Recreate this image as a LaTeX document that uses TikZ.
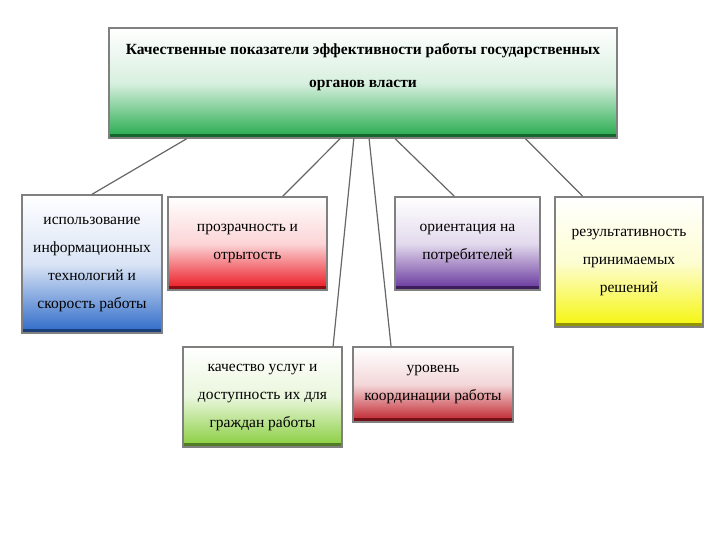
\documentclass[tikz,border=0pt]{standalone}
\usepackage{fontspec}
\setmainfont{Liberation Serif}
\usetikzlibrary{calc}

\definecolor{titlegreen}{RGB}{35,170,75}
\definecolor{tileblue}{RGB}{45,105,200}
\definecolor{tilered}{RGB}{235,20,30}
\definecolor{tilepurple}{RGB}{100,50,155}
\definecolor{tileyellow}{RGB}{245,245,10}
\definecolor{tilelime}{RGB}{135,205,60}
\definecolor{tilecrimson}{RGB}{190,30,40}

\tikzset{
  tile/.style={draw=black!50, line width=1.4pt, top color=white, bottom color=#1,
    middle color=#1!18!white, align=center, inner sep=0pt, text=black,
    font=\fontsize{15.5}{28}\selectfont,
    path picture={\fill[#1!60!black] (path picture bounding box.south west)
      rectangle ([yshift=4pt]path picture bounding box.south east);}},
  link/.style={draw=black!60, line width=1.2pt}
}

\begin{document}
\begin{tikzpicture}[x=1pt, y=-1pt]
  \useasboundingbox (0,0) rectangle (720,540);
  % title box
  \node[tile=titlegreen, minimum width=508pt, minimum height=110pt] (top) at (363,83) {};
  \node[font=\bfseries\fontsize{15.5}{33}\selectfont, align=center, text=black] (title) at (363,67)
    {Качественные показатели эффективности работы государственных\\органов власти};
  % upper row
  \node[tile=tileblue, minimum width=140pt, minimum height=138pt] (use) at (92,264)
    {использование\\информационных\\технологий и\\скорость работы};
  \node[tile=tilered, minimum width=159pt, minimum height=93pt] (open) at (247.5,243.5)
    {прозрачность и\\отрытость};
  \node[tile=tilepurple, minimum width=145pt, minimum height=93pt] (client) at (467.5,243.5)
    {ориентация на\\потребителей};
  \node[tile=tileyellow, minimum width=148pt, minimum height=130pt] (result) at (629,262)
    {результативность\\принимаемых\\решений};
  % lower row
  \node[tile=tilelime, minimum width=159pt, minimum height=100pt] (service) at (262.5,397)
    {качество услуг и\\доступность их для\\граждан работы};
  \node[tile=tilecrimson, minimum width=160pt, minimum height=75pt] (coord) at (433,384.5)
    {уровень\\координации работы};
  % links
  \draw[link] ($(top.south west)!0.154!(top.south east)$) -- (use.north);
  \draw[link] ($(top.south west)!0.455!(top.south east)$) -- ($(open.north west)!0.72!(open.north east)$);
  \draw[link] ($(top.south west)!0.482!(top.south east)$) -- ($(service.north west)!0.94!(service.north east)$);
  \draw[link] ($(top.south west)!0.512!(top.south east)$) -- ($(coord.north west)!0.24!(coord.north east)$);
  \draw[link] ($(top.south west)!0.563!(top.south east)$) -- ($(client.north west)!0.41!(client.north east)$);
  \draw[link] ($(top.south west)!0.819!(top.south east)$) -- ($(result.north west)!0.19!(result.north east)$);
\end{tikzpicture}
\end{document}
